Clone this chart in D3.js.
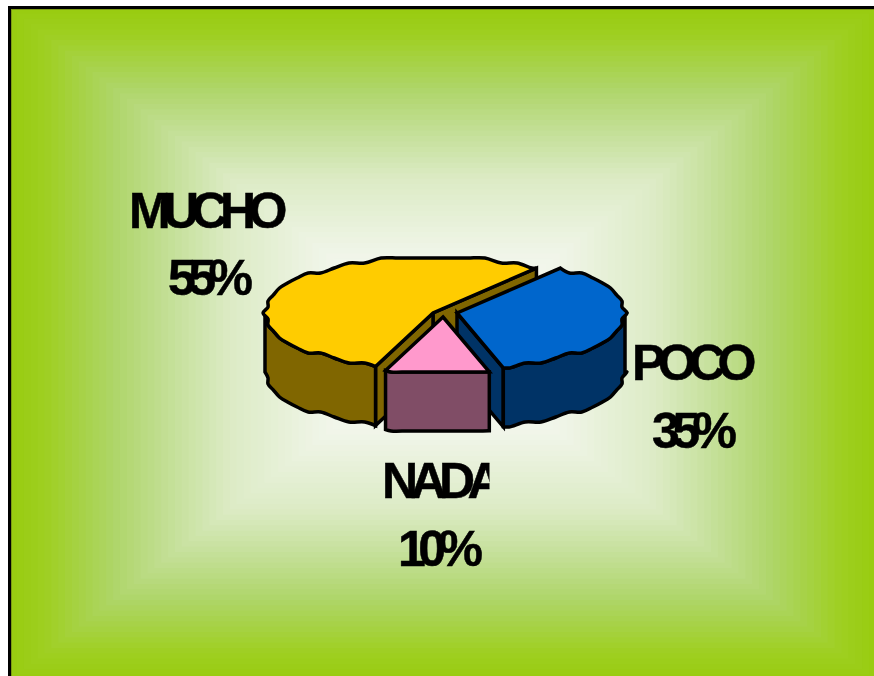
<!DOCTYPE html>
<html><head><meta charset="utf-8">
<script src="https://cdn.jsdelivr.net/npm/d3@7"></script>
<style>html,body{margin:0;padding:0;background:#fff;overflow:hidden}svg{display:block}
text{font-family:"Liberation Sans",Arial,sans-serif;font-weight:700;fill:#000;stroke:#000;stroke-width:0.5px}</style>
</head><body><svg id="c" width="874" height="676"></svg>
<script>
const categories = ["POCO","NADA","MUCHO"];
const percentages = [35,10,55];
const tickLabels = ["35%","10%","55%"];

const svg = d3.select("#c");
// background: rectangular path gradient
const panel={x0:10,y0:8,x1:876,y1:680};
const bands=64;
const tScale=d3.scaleLinear().domain([0,bands-1]);
const colour=d3.scaleLinear().domain([0,0.07,0.23,0.37,0.5,0.72,1])
  .range(["#99cc11","#9ecf20","#aed568","#c5e09a","#dcebc5","#f0f5e8","#ffffff"]);
const cx=(panel.x0+panel.x1)/2, cy=(panel.y0+panel.y1)/2;
svg.append("g").selectAll("rect").data(d3.range(bands)).join("rect")
  .attr("x",i=>panel.x0+tScale(i)*(cx-panel.x0))
  .attr("y",i=>panel.y0+tScale(i)*(cy-panel.y0))
  .attr("width",i=>(1-tScale(i))*(panel.x1-panel.x0))
  .attr("height",i=>(1-tScale(i))*(panel.y1-panel.y0))
  .attr("fill",i=>colour(tScale(i)));
svg.append("rect").attr("x",11.5).attr("y",9.5).attr("width",900).attr("height",700)
  .attr("fill","none").attr("stroke","#7d9c12").attr("stroke-width",1);
svg.append("rect").attr("x",9.5).attr("y",7.5).attr("width",900).attr("height",700)
  .attr("fill","none").attr("stroke","#000").attr("stroke-width",3);

// pie
const RX=168,RY=57,DEPTH=59;
const pieGen=d3.pie().sort(null).startAngle(38*Math.PI/180).endAngle((38+360)*Math.PI/180);
const arcs=pieGen(percentages);
const apex={POCO:[457,313],NADA:[443,317],MUCHO:[433,313]};
const topCol={POCO:"#0066cc",NADA:"#ff99cc",MUCHO:"#ffcc00"};
const sideCol={POCO:"#003366",NADA:"#804d66",MUCHO:"#806600"};
const sx=d3.scaleLinear().domain([-1,1]).range([-RX,RX]);
const sy=d3.scaleLinear().domain([-1,1]).range([-RY,RY]);
const deg=Math.PI/180;
const SNAP_X=5,SNAP_Y=5,SAMPLE=6*deg;
function exact(c,a,dz){return [c[0]+sx(Math.sin(a)),c[1]+sy(-Math.cos(a))+dz];}
function snapped(c,a,dz){
  // the original outline is a coarse raster: only the slowly changing coordinate snaps
  const x=sx(Math.sin(a)), y=sy(-Math.cos(a));
  const steep=Math.abs(RX*Math.cos(a))<Math.abs(RY*Math.sin(a));
  return steep ? [c[0]+Math.round(x/SNAP_X)*SNAP_X, c[1]+y+dz]
               : [c[0]+x, c[1]+Math.round(y/SNAP_Y)*SNAP_Y+dz];
}
// samples sit on one fixed angle grid, so a slice's top and side share one outline
function arcPts(c,a0,a1,dz=0){
  const lo=Math.min(a0,a1), hi=Math.max(a0,a1);
  const inner=d3.range(Math.floor(lo/SAMPLE)+1,Math.ceil(hi/SAMPLE)).map(k=>k*SAMPLE);
  const pts=[exact(c,lo,dz)].concat(inner.map(a=>snapped(c,a,dz)),[exact(c,hi,dz)]);
  return a0<=a1?pts:pts.reverse();
}
const lin=d3.line();
const curve2=d3.line().curve(d3.curveCatmullRom.alpha(0.5));
const g=svg.append("g").attr("stroke","#000").attr("stroke-width",3.5)
  .attr("stroke-linejoin","miter").attr("stroke-miterlimit",3);
function shape(d,fill){g.append("path").attr("d",d+"Z").attr("fill",fill);}
function outerSide(c,a0,a1,col){
  const top=arcPts(c,a0,a1,0), bot=arcPts(c,a1,a0,DEPTH);
  shape(curve2(top)+"L"+curve2(bot).slice(1),col);
}
function wall(c,a,col){
  const e=exact(c,a,0);
  shape(lin([c,e,[e[0],e[1]+DEPTH],[c[0],c[1]+DEPTH]]),col);
}
function topFace(c,a0,a1,col){ shape(lin([c])+"L"+curve2(arcPts(c,a0,a1,0)).slice(1),col); }
[2,0,1].forEach(i=>{
  const name=categories[i],d=arcs[i],c=apex[name];
  const a0=d.startAngle,a1=d.endAngle;
  const tc=topCol[name],sc=sideCol[name];
  if(name==="MUCHO"){
    wall(c,a1,sc);
    wall(c,a0,sc);
    outerSide(c,a0,270*deg,sc);
  } else if(name==="POCO"){
    wall(c,a1,sc);
    outerSide(c,90*deg,a1,sc);
  } else {
    outerSide(c,a0,a1,sc);
  }
  topFace(c,a0,a1,tc);
});

// labels
const labelPos={MUCHO:[129,228,168,295],POCO:[632,380,652,448],NADA:[382,498,398,566]};
svg.append("defs").append("clipPath").attr("id","nadaClip").append("rect")
  .attr("x",370).attr("y",450).attr("width",119.5).attr("height",60);
const labels=svg.append("g").attr("font-size",50).attr("letter-spacing",-7.6);
categories.forEach((n,i)=>{
  const p=labelPos[n];
  const t=labels.append("text").attr("x",p[0]).attr("y",p[1]).text(n);
  if(n==="NADA") t.attr("clip-path","url(#nadaClip)");
  labels.append("text").attr("x",p[2]).attr("y",p[3]).text(tickLabels[i]);
});
</script></body></html>
